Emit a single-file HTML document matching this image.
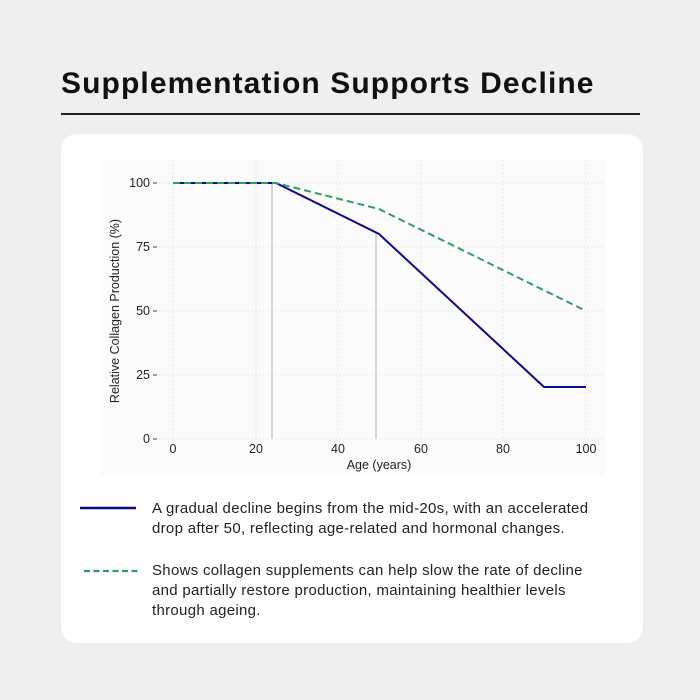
<!DOCTYPE html>
<html><head><style>
body{margin:0;width:700px;height:700px;background:#efefef;font-family:"Liberation Sans",sans-serif;position:relative;overflow:hidden}
.t{position:absolute;left:61px;top:67px;font-size:30px;font-weight:bold;color:#111;letter-spacing:1.1px}
.hr{position:absolute;left:61px;top:113px;width:579px;height:1.5px;background:#222}
.card{position:absolute;left:61px;top:134px;width:582px;height:509px;background:#fff;border-radius:16px}
.lg{position:absolute;font-size:15px;color:#222;line-height:20px;letter-spacing:0.3px}
</style></head><body>
<div class="t">Supplementation Supports Decline</div>
<div class="hr"></div>
<div class="card"></div>
<svg style="position:absolute;left:0;top:0" width="700" height="700" font-family="Liberation Sans, sans-serif">
<rect x="100" y="160" width="505" height="315" fill="#fbfbfb"/>
<g stroke="#e6e6e6" stroke-dasharray="2,2" stroke-width="0.8">
<line x1="173" y1="160" x2="173" y2="445"/><line x1="256" y1="160" x2="256" y2="445"/><line x1="338" y1="160" x2="338" y2="445"/><line x1="421" y1="160" x2="421" y2="445"/><line x1="503" y1="160" x2="503" y2="445"/><line x1="586" y1="160" x2="586" y2="445"/>
<line x1="155" y1="183" x2="605" y2="183"/><line x1="155" y1="247" x2="605" y2="247"/><line x1="155" y1="311" x2="605" y2="311"/><line x1="155" y1="375" x2="605" y2="375"/><line x1="155" y1="439" x2="605" y2="439"/>
</g>
<g stroke="#bbb" stroke-width="1.2"><line x1="272" y1="183" x2="272" y2="439"/><line x1="376" y1="234" x2="376" y2="439"/></g>
<polyline points="173,183 276,183 379,234 544,387 586,387" fill="none" stroke="#0a0a8a" stroke-width="2"/>
<polyline points="173,183 276,183 379,209 586,311" fill="none" stroke="#2e9e63" stroke-width="2" stroke-dasharray="7,4"/>
<g font-size="12.5" fill="#222" text-anchor="end">
<text x="150" y="187">100</text><text x="150" y="251">75</text><text x="150" y="315">50</text><text x="150" y="379">25</text><text x="150" y="443">0</text></g>
<g stroke="#444"><line x1="153" y1="183" x2="157" y2="183"/><line x1="153" y1="247" x2="157" y2="247"/><line x1="153" y1="311" x2="157" y2="311"/><line x1="153" y1="375" x2="157" y2="375"/><line x1="153" y1="439" x2="157" y2="439"/></g>
<g font-size="12.5" fill="#222" text-anchor="middle">
<text x="173" y="453">0</text><text x="256" y="453">20</text><text x="338" y="453">40</text><text x="421" y="453">60</text><text x="503" y="453">80</text><text x="586" y="453">100</text>
<text x="379" y="469">Age (years)</text>
<text transform="translate(119,311) rotate(-90)">Relative Collagen Production (%)</text></g>
<line x1="80" y1="508" x2="136" y2="508" stroke="#0a0a8a" stroke-width="2.5"/>
<line x1="84" y1="571" x2="140" y2="571" stroke="#2e9e63" stroke-width="2.2" stroke-dasharray="6,3.5"/>
</svg>
<div class="lg" style="left:152px;top:499px;width:452px">A gradual decline begins from the mid-20s, with an accelerated drop after 50, reflecting age-related and hormonal changes.</div>
<div class="lg" style="left:152px;top:561px;width:452px">Shows collagen supplements can help slow the rate of decline and partially restore production, maintaining healthier levels through ageing.</div>
</body></html>
